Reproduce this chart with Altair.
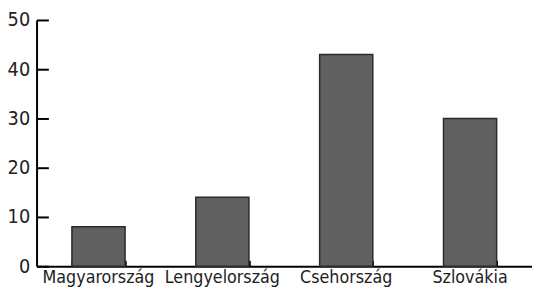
import altair as alt
import pandas as pd

countries = ["Magyarország", "Lengyelország", "Csehország", "Szlovákia"]
values = [8, 14, 43, 30]
y_ticks = [0, 10, 20, 30, 40, 50]

df = pd.DataFrame({"country": countries, "value": values})

FONT = "DejaVu Sans Condensed, Roboto Condensed, Roboto, sans-serif"
W, H = 503, 250

xscale = alt.Scale(paddingInner=0.571, paddingOuter=0.2855)
yscale = alt.Scale(domain=[0, 50], nice=False)

bars = alt.Chart(df).mark_bar(color="#606060", stroke="#2a2a2a", strokeWidth=1.5).encode(
    x=alt.X("country:N", sort=countries, scale=xscale,
            axis=alt.Axis(title=None, labelAngle=0, ticks=False, domainColor="black",
                          domainWidth=2, labelFont=FONT, labelFontSize=18,
                          labelColor="#222", labelPadding=3)),
    y=alt.Y("value:Q", scale=yscale,
            axis=alt.Axis(title=None, values=y_ticks, ticks=False, domainColor="black",
                          domainWidth=2, labelFont=FONT, labelFontSize=20,
                          labelColor="#222", labelPadding=7)),
)

tick_layer = alt.Chart(df).mark_bar(opacity=0).encode(
    x=alt.X("country:N", sort=countries, scale=xscale,
            axis=alt.Axis(title=None, orient="top", offset=-H, labels=False, domain=False,
                          tickBand="extent", tickSize=6, tickWidth=2, tickColor="black")),
    y=alt.Y("value:Q", scale=yscale,
            axis=alt.Axis(title=None, orient="right", offset=-W, labels=False, domain=False,
                          values=y_ticks, tickSize=12, tickWidth=2, tickColor="black")),
)

chart = (
    alt.layer(bars, tick_layer)
    .resolve_axis(x="independent", y="independent")
    .properties(width=W, height=H, autosize="none",
                padding={"left": 29, "top": 10, "right": 0, "bottom": 22})
    .configure_axis(grid=False)
    .configure_view(stroke=None)
)

chart.save("out.html", embed_options={"renderer": "svg", "actions": False})
